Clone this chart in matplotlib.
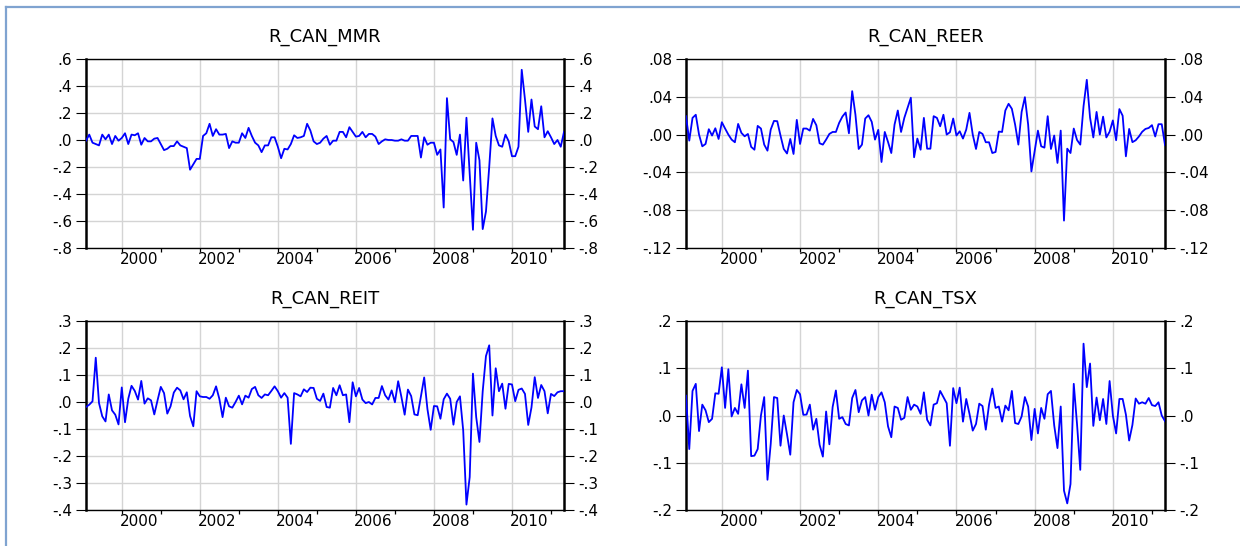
import numpy as np
import pandas as pd
import matplotlib
matplotlib.use("Agg")
import matplotlib.pyplot as plt
from matplotlib.lines import Line2D
from matplotlib.ticker import FuncFormatter

W, H = 1240, 546

# monthly sample, 148 obs
dates = pd.date_range("1999-02-01", periods=148, freq="MS")
t = np.asarray(dates.year + (dates.month - 1) / 12.0)

mmr = [-0.005, 0.04, -0.02, -0.03, -0.04, 0.04, 0.005, 0.04, -0.03, 0.03,
       -0.005, 0.015, 0.05, -0.03, 0.04, 0.035, 0.05, -0.035, 0.015, -0.01,
       -0.01, 0.01, 0.015, -0.03, -0.075, -0.065, -0.045, -0.045, -0.01, -0.04,
       -0.05, -0.06, -0.22, -0.18, -0.14, -0.14, 0.03, 0.05, 0.12, 0.03,
       0.08, 0.04, 0.04, 0.045, -0.06, -0.01, -0.02, -0.02, 0.05, 0.015,
       0.09, 0.03, -0.02, -0.04, -0.09, -0.04, -0.04, 0.02, 0.02, -0.05,
       -0.135, -0.065, -0.07, -0.03, 0.035, 0.015, 0.02, 0.03, 0.12, 0.07,
       -0.01, -0.03, -0.02, 0.01, 0.03, -0.035, -0.005, -0.005, 0.06, 0.06,
       0.02, 0.095, 0.06, 0.025, 0.03, 0.06, 0.02, 0.045, 0.045, 0.025,
       -0.03, -0.01, 0.005, 0.0, 0.0, -0.005, -0.005, 0.005, -0.005, -0.005,
       0.03, 0.03, 0.03, -0.13, 0.02, -0.035, -0.02, -0.02, -0.11, -0.07,
       -0.50, 0.31, 0.005, -0.015, -0.11, 0.04, -0.30, 0.165, -0.25, -0.665,
       -0.02, -0.15, -0.66, -0.53, -0.2, 0.16, 0.03, -0.04, -0.05, 0.04,
       -0.01, -0.12, -0.12, -0.05, 0.52, 0.3, 0.06, 0.30, 0.10, 0.08,
       0.25, 0.02, 0.065, 0.02, -0.03, 0.0, -0.05, 0.06]

reer = [0.0195, -0.0064, 0.0177, 0.021, 0.0, -0.0124, -0.0099, 0.0057, -0.001, 0.0067,
        -0.0046, 0.0131, 0.0064, 0.0, -0.0053, -0.0081, 0.0113, 0.0018, -0.0018, 0.0007,
        -0.013, -0.016, 0.0092, 0.0064, -0.0106, -0.017, 0.0053, 0.0145, 0.0142, -0.001,
        -0.0152, -0.020, -0.0046, -0.0205, 0.0156, -0.0099, 0.0064, 0.0064, 0.0042, 0.0166,
        0.0099, -0.0092, -0.0106, -0.0053, 0.0007, 0.0028, 0.0028, 0.0124, 0.0191, 0.0234,
        0.0014, 0.046, 0.021, -0.0152, -0.0106, 0.017, 0.0205, 0.0135, -0.0053, 0.005,
        -0.029, 0.0028, -0.0078, -0.0195, 0.0106, 0.0255, 0.0028, 0.0177, 0.0283, 0.039,
        -0.024, -0.0042, -0.016, 0.0177, -0.0149, -0.0149, 0.0195, 0.0177, 0.0088, 0.021,
        0.0, 0.0025, 0.017, -0.001, 0.0035, -0.0042, 0.0053, 0.023, 0.0, -0.0152,
        0.0028, 0.0007, -0.0081, -0.0081, -0.0195, -0.0184, 0.0032, 0.0028, 0.0255, 0.0326,
        0.0273, 0.0106, -0.0106, 0.024, 0.0396, 0.0106, -0.039, -0.0177, 0.0042, -0.0124,
        -0.0138, 0.0195, -0.0152, -0.001, -0.030, 0.0042, -0.091, -0.0149, -0.0195, 0.0064,
        -0.0057, -0.0106, 0.03, 0.058, 0.018, -0.003, 0.024, 0.0, 0.019, -0.003,
        0.003, 0.015, -0.006, 0.027, 0.02, -0.023, 0.006, -0.008, -0.006, -0.002,
        0.003, 0.006, 0.007, 0.01, -0.002, 0.011, 0.011, -0.011]

reit = [-0.0185, -0.01, 0.0025, 0.164, -0.004, -0.053, -0.072, 0.028, -0.031, -0.047,
        -0.083, 0.054, -0.075, 0.012, 0.06, 0.041, 0.009, 0.078, -0.006, 0.0136,
        0.006, -0.046, 0.006, 0.056, 0.033, -0.043, -0.016, 0.035, 0.053, 0.043,
        0.01, 0.036, -0.052, -0.09, 0.04, 0.021, 0.0185, 0.0185, 0.012, 0.025,
        0.058, 0.012, -0.056, 0.016, -0.016, -0.021, 0.0, 0.0235, -0.0087, 0.0235,
        0.016, 0.048, 0.056, 0.025, 0.015, 0.028, 0.025, 0.041, 0.058, 0.04,
        0.016, 0.033, 0.016, -0.155, 0.033, 0.028, 0.021, 0.047, 0.037, 0.053,
        0.052, 0.012, 0.004, 0.031, -0.0185, -0.021, 0.052, 0.025, 0.062, 0.025,
        0.028, -0.075, 0.073, 0.021, 0.052, 0.009, -0.004, 0.0, -0.009, 0.015,
        0.015, 0.059, 0.025, 0.009, 0.043, -0.001, 0.077, 0.0185, -0.047, 0.046,
        0.022, -0.046, -0.049, 0.021, 0.091, -0.026, -0.103, -0.015, -0.016, -0.062,
        0.01, 0.031, 0.012, -0.084, 0.0, 0.021, -0.105, -0.38, -0.278, 0.105,
        -0.056, -0.148, 0.04, 0.17, 0.21, -0.05, 0.125, 0.04, 0.068, -0.025,
        0.067, 0.065, 0.003, 0.045, 0.05, 0.03, -0.085, -0.02, 0.092, 0.015,
        0.063, 0.04, -0.042, 0.03, 0.022, 0.036, 0.04, 0.04]

tsx = [0.042, -0.071, 0.052, 0.067, -0.033, 0.023, 0.011, -0.014, -0.007, 0.047,
       0.046, 0.102, 0.016, 0.098, -0.002, 0.016, 0.0035, 0.066, 0.016, 0.095,
       -0.086, -0.085, -0.071, 0.0, 0.039, -0.136, -0.06, 0.039, 0.037, -0.064,
       0.0, -0.04, -0.083, 0.028, 0.054, 0.045, 0.0014, 0.002, 0.023, -0.03,
       -0.007, -0.062, -0.087, 0.0085, -0.061, 0.018, 0.053, -0.007, -0.0035, -0.018,
       -0.021, 0.037, 0.054, 0.007, 0.032, 0.039, 0.0, 0.044, 0.012, 0.039,
       0.049, 0.028, -0.023, -0.046, 0.019, 0.016, -0.009, -0.005, 0.039, 0.012,
       0.023, 0.019, 0.0035, 0.049, -0.009, -0.021, 0.023, 0.026, 0.052, 0.039,
       0.026, -0.064, 0.058, 0.026, 0.059, -0.013, 0.035, 0.0035, -0.032, -0.018,
       0.025, 0.02, -0.03, 0.023, 0.057, 0.016, 0.019, -0.013, 0.021, 0.011,
       0.052, -0.016, -0.018, -0.002, 0.039, 0.019, -0.052, 0.014, -0.038, 0.016,
       -0.007, 0.045, 0.052, -0.021, -0.069, 0.019, -0.159, -0.186, -0.145, 0.067,
       -0.018, -0.115, 0.152, 0.06, 0.11, -0.022, 0.038, -0.01, 0.035, -0.018,
       0.073, 0.0, -0.038, 0.035, 0.035, 0.002, -0.053, -0.02, 0.036, 0.025,
       0.028, 0.025, 0.037, 0.022, 0.02, 0.028, 0.0, -0.012]

titles = ["R_CAN_MMR", "R_CAN_REER", "R_CAN_REIT", "R_CAN_TSX"]
series = [mmr, reer, reit, tsx]
# (ymin, ymax, step, decimals)
yscales = [(-0.8, 0.6, 0.2, 1), (-0.12, 0.08, 0.04, 2),
           (-0.4, 0.3, 0.1, 1), (-0.2, 0.2, 0.1, 1)]
label_years = [2000, 2002, 2004, 2006, 2008, 2010]
tick_years = list(range(2000, 2012))

# axes boxes in pixels: left, top, width, height
boxes = [(86, 59, 478, 189), (686, 59, 479, 189),
         (86, 321, 478, 189), (686, 321, 479, 189)]

GRID = "#d4d4d4"


def eviews_fmt(v, pos, d):
    if abs(v) < 1e-9:
        v = 0.0
    return f"{v:.{d}f}".replace("0.", ".", 1)


fig = plt.figure(figsize=(W / 100, H / 100), dpi=100)
fig.patch.set_facecolor("white")

for (l, tp, w, h), name, vals, (lo, hi, step, dec) in zip(boxes, titles, series, yscales):
    ax = fig.add_axes([l / W, 1 - (tp + h) / H, w / W, h / H])
    ax.plot(t, vals, color="#0000ff", lw=1.3, zorder=3)
    ax.set_xlim(t[0], t[-1])
    ax.set_ylim(lo, hi)

    yt = np.round(np.arange(lo, hi + step / 2, step), 3)
    ax.set_yticks(yt)
    ax.yaxis.set_major_formatter(FuncFormatter(lambda v, p, d=dec: eviews_fmt(v, p, d)))
    ax.yaxis.grid(True, color=GRID, lw=1.0)
    for yr in label_years:
        ax.axvline(yr, color=GRID, lw=1.0, zorder=0)
    ax.set_axisbelow(True)

    ax.set_xticks(tick_years)
    ax.set_xticks([y + 0.45 for y in label_years], minor=True)
    ax.set_xticklabels([str(y) for y in label_years], minor=True)
    ax.tick_params(axis="x", which="major", labelbottom=False, direction="out",
                   length=3, width=0.9)
    ax.tick_params(axis="x", which="minor", length=0, pad=3, labelsize=11)
    ax.tick_params(axis="y", left=True, right=True, labelleft=True, labelright=True,
                   direction="out", length=7, width=0.8, pad=3, labelsize=11)

    for s in ("left", "right"):
        ax.spines[s].set_linewidth(1.8)
    for s in ("top", "bottom"):
        ax.spines[s].set_linewidth(1.0)

    ax.text(0.5, 1 + 22 / h, name, transform=ax.transAxes, ha="center",
            va="center", fontsize=13)

# page frame (left and top edges)
fig.add_artist(Line2D([6 / W, 6 / W], [0, 1 - 7 / H], transform=fig.transFigure,
                      color="#7fa3d0", lw=1.6))
fig.add_artist(Line2D([6 / W, 1], [1 - 7 / H, 1 - 7 / H], transform=fig.transFigure,
                      color="#7fa3d0", lw=1.6))

fig.savefig("out.png", dpi=100)
